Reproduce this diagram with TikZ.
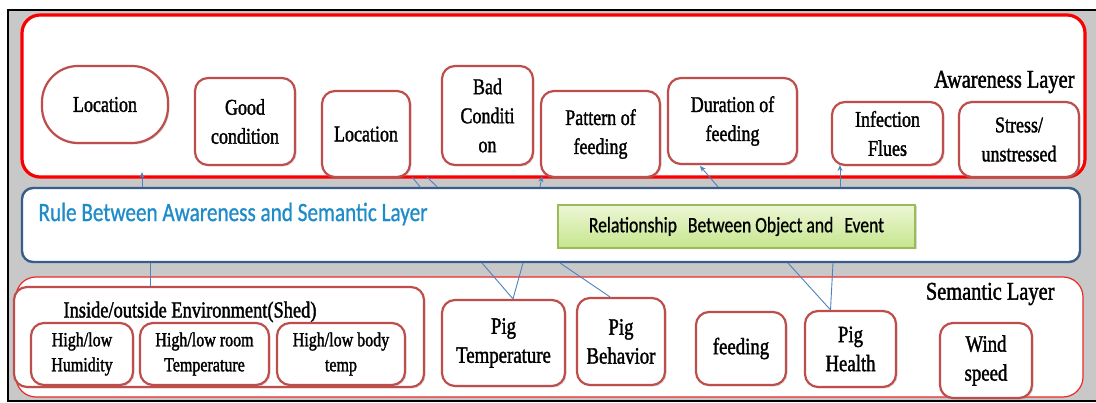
\documentclass[tikz,border=0pt]{standalone}
\usepackage{fontspec}
\setmainfont{Liberation Serif}[FakeStretch=0.8, FakeBold=1.5]
\newfontfamily\calib{Carlito}[FakeStretch=0.8, FakeBold=0.8]
\usetikzlibrary{shadows,arrows.meta}

\definecolor{boxred}{RGB}{190,78,75}
\definecolor{layerred}{RGB}{250,0,0}
\definecolor{semred}{RGB}{235,40,40}
\definecolor{ruleblue}{RGB}{56,93,138}
\definecolor{ruletext}{RGB}{30,140,200}
\definecolor{linkblue}{RGB}{79,129,189}
\definecolor{greenedge}{RGB}{155,187,89}
\definecolor{greentop}{RGB}{236,247,214}
\definecolor{greenbot}{RGB}{198,229,140}
\definecolor{bggray}{RGB}{200,200,200}

\tikzset{
  item/.style={draw=boxred, line width=2.2pt, rounded corners=13pt, fill=white,
    align=center, inner sep=0pt, font=\fontsize{22.5}{29}\selectfont,
    drop shadow={shadow xshift=1.5pt, shadow yshift=-1.5pt, opacity=0.25}},
  pigitem/.style={item, font=\fontsize{23.5}{29}\selectfont},
  small/.style={item, font=\fontsize{20}{25}\selectfont},
  layer/.style={fill=white, inner sep=0pt},
  caption/.style={anchor=east, font=\fontsize{25.5}{28}\selectfont},
  link/.style={draw=linkblue, line width=0.9pt},
  up/.style={link, -{Stealth[length=6pt, width=5pt, open]}},
}

\begin{document}
\begin{tikzpicture}[x=1pt, y=-1pt]
\useasboundingbox (0,0) rectangle (1096,403);

% backdrop and frame
\fill[bggray] (8,10) rectangle (1096,401);
\draw[black, line width=2pt] (1096,10) -- (8,10) -- (8,401) -- (1096,401);

% the three layers
\node[layer, draw=layerred, line width=3.2pt, rounded corners=18pt,
      minimum width=1063pt, minimum height=162pt] (aware) at (553.5,96) {};
\node[layer, draw=ruleblue, line width=2.4pt, rounded corners=11pt,
      minimum width=1058pt, minimum height=74pt] (rule) at (551,225) {};
\node[layer, draw=semred, line width=1.2pt, rounded corners=20pt,
      minimum width=1067pt, minimum height=120pt] (sem) at (549.5,337) {};

% connection points
\coordinate (a1) at (142,172);
\coordinate (a2) at (412,177);
\coordinate (a3) at (427,177);
\coordinate (a4) at (542,176);
\coordinate (a5) at (700,166);
\coordinate (a6) at (840,165);
\coordinate (b1) at (150,263);
\coordinate (b2) at (482,263);
\coordinate (b3) at (523,263);
\coordinate (b4) at (560,263);
\coordinate (b5) at (788,263);
\coordinate (b6) at (833,263);

% connectors between awareness and rule layers
\draw[up] (rule.north -| a1) -- (a1);
\draw[link] (rule.north -| 420,0) -- (a2);
\draw[link] (rule.north -| 437,0) -- (a3);
\draw[up] (rule.north -| 540,0) -- (a4);
\draw[up] (rule.north -| 718,0) -- (a5);
\draw[up] (rule.north -| a6) -- (a6);

% rule layer contents
\node[anchor=west, font=\calib\fontsize{26.5}{28}\selectfont, text=ruletext] (ruletitle) at (35,214)
  {Rule Between Awareness and Semantic Layer};
\node[draw=greenedge, line width=1.2pt, top color=greentop, bottom color=greenbot,
      minimum width=357pt, minimum height=43pt, inner sep=0pt,
      font=\calib\fontsize{22}{24}\selectfont,
      drop shadow={shadow xshift=1.5pt, shadow yshift=-1.5pt, opacity=0.3}]
  (relbox) at (736.5,226.5) {Relationship\hspace{0.5em}Between Object and\hspace{0.5em}Event};

% awareness items
\node[item, rounded corners=36pt, minimum width=126pt, minimum height=77pt] (loc1) at (105,104.5) {Location};
\node[item, minimum width=100pt, minimum height=87pt] (good) at (245,121.5) {Good\\condition};
\node[item, minimum width=88pt, minimum height=86pt] (loc2) at (366,134) {Location};
\node[item, minimum width=91pt, minimum height=99pt] (bad) at (487.5,115.5) {Bad\\Conditi\\on};
\node[item, minimum width=119pt, minimum height=86pt] (pattern) at (600.5,134) {Pattern of\\feeding};
\node[item, minimum width=129pt, minimum height=86pt] (duration) at (732.5,121) {Duration of\\feeding};
\node[item, minimum width=111pt, minimum height=63pt] (infect) at (887.5,133.5) {Infection\\Flues};
\node[item, minimum width=120pt, minimum height=75pt] (stress) at (1019,139.5) {Stress/\\unstressed};
\node[caption] (awlabel) at (1078,82) {Awareness Layer};

% semantic items
\node[item, minimum width=410pt, minimum height=100pt] (env) at (219,337) {};
\node[anchor=west, font=\fontsize{23}{26}\selectfont] (envtitle) at (60,312) {Inside/outside Environment(Shed)};
\node[small, minimum width=102pt, minimum height=62pt] (hum) at (82,354) {High/low\\Humidity};
\node[small, minimum width=129pt, minimum height=62pt] (room) at (204.5,354) {High/low room\\Temperature};
\node[small, minimum width=128pt, minimum height=62pt] (body) at (341,354) {High/low body\\temp};
\node[pigitem, minimum width=123pt, minimum height=86pt] (pigT) at (503.5,343) {Pig\\Temperature};
\node[pigitem, minimum width=88pt, minimum height=87pt] (pigB) at (621,341.5) {Pig\\Behavior};
\node[pigitem, minimum width=90pt, minimum height=73pt] (feed) at (741,348.5) {feeding};
\node[pigitem, minimum width=91pt, minimum height=76pt] (pigH) at (850.5,349) {Pig\\Health};
\node[pigitem, minimum width=92pt, minimum height=75pt] (wind) at (986,360.5) {Wind\\speed};
\node[caption] (semlabel) at (1058,294) {Semantic Layer};

% links down to the semantic layer
\draw[link] (b1) -- (env.north -| b1);
\draw[link] (b2) -- ([xshift=9.5pt]pigT.north);
\draw[link] (b3) -- ([xshift=9.5pt]pigT.north);
\draw[link] (b4) -- ([xshift=-11pt]pigB.north);
\draw[link] (b5) -- ([xshift=-20pt]pigH.north);
\draw[link] (b6) -- ([xshift=-20pt]pigH.north);
\end{tikzpicture}
\end{document}
